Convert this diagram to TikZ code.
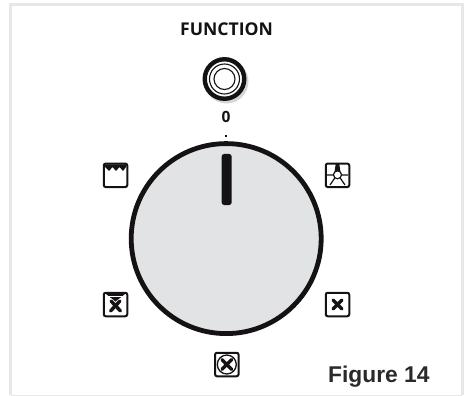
\documentclass[tikz,border=0pt]{standalone}
\usepackage{fontspec}
\setmainfont{Liberation Sans}
\newfontfamily\labelfont{Open Sans}
\definecolor{dialgrey}{HTML}{E1E3E4}
\definecolor{edgegrey}{HTML}{E6E7E8}
\definecolor{ink}{HTML}{141213}
\definecolor{figink}{HTML}{2B2A2B}
\tikzset{
  x=1pt,y=-1pt,
  iconbox/.style={draw=ink,line width=2pt,rounded corners=2pt,fill=white,minimum size=23.5pt,inner sep=0pt},
  iconline/.style={draw=ink,line width=1.2pt},
  fanblade/.style={draw=ink,line width=3.4pt,line cap=round},
  lab/.style={inner sep=0pt,text=ink}
}
\begin{document}
\begin{tikzpicture}
\useasboundingbox (0,0) rectangle (464,396);
\fill[white] (0,0) rectangle (464,396);
\draw[edgegrey,line width=3pt] (10.5,395) -- (10.5,4.5) -- (462,4.5) -- (462,395);
\draw[edgegrey,line width=1pt] (10.5,395) -- (462,395);
\node[lab,font=\labelfont\bfseries\fontsize{17.6}{18}\selectfont] (title) at (226.5,29) {FUNCTION};
\fill[black!16] (226.5,81.5) circle (22);
\node[circle,draw=ink,line width=4.4pt,fill=white,minimum size=39.5pt,inner sep=0pt] (knob) at (224.5,79) {};
\draw[ink,line width=1.1pt] (knob.center) circle (15);
\draw[ink,line width=1.1pt] (knob.center) circle (10.5);
\node[lab,font=\labelfont\bfseries\fontsize{15.5}{16}\selectfont] (zero) at (226,117) {0};
\fill[ink] (225,135) rectangle (227,137);
\node[circle,draw=ink,line width=4.8pt,fill=dialgrey,minimum size=190pt,inner sep=0pt] (dial) at (226.2,238.6) {};
\node[fill=ink,rounded corners=2.5pt,minimum width=10pt,minimum height=51pt,inner sep=0pt] (pointer) at (226.7,179.5) {};
% oven top
\node[iconbox] (ovenicon) at (115.5,175.3) {};
\fill[ink] (105,164.5) -- (126,164.5) -- (126,167) -- (123,171) -- (119.5,167) -- (116,171) -- (112.5,167) -- (109,171) -- (105,167) -- cycle;
% lamp
\node[iconbox] (lampicon) at (337.5,175.3) {};
\fill[ink] (335.7,164) -- (339.3,164) -- (340.3,171) -- (334.7,171) -- cycle;
\draw[iconline,fill=white] (337.5,174.8) circle (4);
\draw[iconline] (327,175) -- (333,175) (342,175) -- (348,175) (334.8,178) -- (330,185) (340.2,178) -- (345,185);
% fan with top element
\node[iconbox] (grillfanicon) at (115.5,304.5) {};
\fill[ink] (106,294) -- (125,294) -- (115.5,301.5) -- cycle;
\draw[white,line width=1pt] (105,296.6) -- (126,296.6);
\draw[fanblade] (111,301) -- (120.5,311) (120,301) -- (110.5,311);
% defrost fan
\node[iconbox] (fanicon) at (337.5,304.5) {};
\draw[fanblade] (333,300) -- (342,309) (342,300) -- (333,309);
% circular fan
\node[iconbox] (ringicon) at (226.8,364.5) {};
\draw[ink,line width=1.3pt] (ringicon.center) circle (9.5);
\draw[fanblade] (222,359.7) -- (231.6,369.3) (231.6,359.7) -- (222,369.3);
\node[lab,text=figink,anchor=base west,font=\bfseries\fontsize{22.8}{24}\selectfont] (fig) at (328,382.5) {Figure 14};
\end{tikzpicture}
\end{document}
